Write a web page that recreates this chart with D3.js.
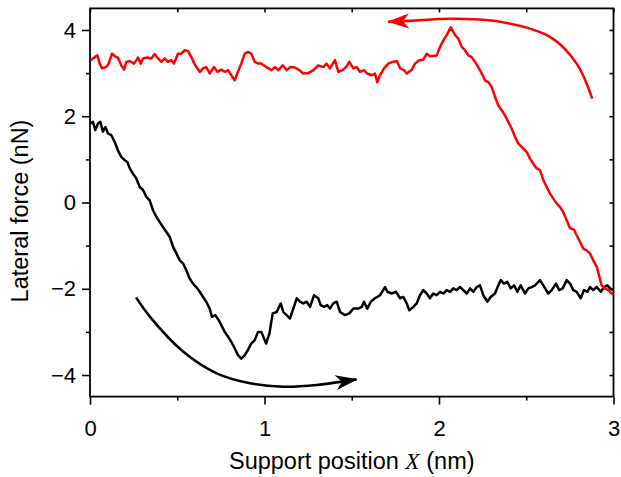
<!DOCTYPE html>
<html>
<head>
<meta charset="utf-8">
<script src="https://cdn.jsdelivr.net/npm/d3@7"></script>
<style>
  html, body { margin: 0; padding: 0; background: #fff; }
  svg text { font-family: "Liberation Sans", Arial, Helvetica, sans-serif; fill: #000; }
</style>
</head>
<body>
<div id="chart"></div>
<script>
// red trace (support moving back), x in nm, force in nN
const redX = [0.004,0.027,0.042,0.056,0.069,0.093,0.107,0.126,0.142,0.160,0.179,0.195,0.208,0.228,0.252,0.275,0.291,0.304,0.328,0.351,
  0.371,0.390,0.409,0.428,0.447,0.466,0.481,0.504,0.523,0.543,0.562,0.581,0.603,0.629,0.648,0.666,0.686,0.711,0.730,0.752,
  0.772,0.791,0.810,0.829,0.848,0.867,0.887,0.905,0.924,0.944,0.963,0.982,1.010,1.041,1.060,1.079,1.104,1.127,1.150,1.175,
  1.199,1.222,1.251,1.280,1.308,1.337,1.356,1.375,1.404,1.423,1.448,1.467,1.486,1.509,1.528,1.547,1.570,1.589,1.614,1.633,
  1.646,1.662,1.685,1.709,1.735,1.758,1.777,1.799,1.815,1.844,1.862,1.887,1.910,1.930,1.948,1.987,2.006,2.025,2.044,2.067,
  2.092,2.111,2.130,2.149,2.168,2.187,2.206,2.225,2.245,2.264,2.283,2.302,2.321,2.340,2.359,2.378,2.397,2.417,2.436,2.454,
  2.483,2.503,2.521,2.540,2.560,2.579,2.598,2.617,2.636,2.655,2.674,2.693,2.712,2.732,2.751,2.774,2.789,2.808,2.827,2.846,
  2.865,2.884,2.904,2.919,2.932,2.951,2.970,2.990,3.000];
const redF = [3.30,3.37,3.41,3.22,3.11,3.14,3.22,3.45,3.39,3.36,3.18,3.08,3.26,3.28,3.22,3.36,3.22,3.34,3.36,3.34,
  3.44,3.34,3.26,3.34,3.26,3.30,3.22,3.45,3.45,3.53,3.51,3.37,3.18,3.03,3.11,3.14,2.99,3.14,3.03,3.08,
  3.03,3.07,2.95,2.83,3.03,3.22,3.45,3.49,3.45,3.26,3.22,3.22,3.14,3.07,3.14,3.07,3.18,3.07,3.14,3.13,
  3.07,2.99,3.00,3.07,3.18,3.14,3.22,3.11,3.30,3.03,3.07,3.14,3.26,3.11,3.14,3.03,3.07,2.99,2.95,2.99,
  2.79,2.95,3.11,3.22,3.26,3.28,3.11,3.07,2.99,3.08,3.22,3.30,3.31,3.45,3.39,3.41,3.61,3.76,3.88,4.06,
  3.88,3.80,3.61,3.53,3.41,3.37,3.26,3.14,2.99,2.83,2.79,2.68,2.45,2.25,2.14,2.02,1.87,1.71,1.52,1.37,
  1.25,1.17,1.02,0.90,0.79,0.75,0.52,0.36,0.21,0.09,-0.02,-0.10,-0.22,-0.41,-0.60,-0.63,-0.76,-0.91,-1.07,-1.11,
  -1.18,-1.34,-1.49,-1.72,-1.92,-1.99,-2.03,-2.11,-2.14];

// black trace (support moving forward)
const blackX = [0.000,0.017,0.030,0.046,0.059,0.074,0.088,0.103,0.122,0.142,0.160,0.179,0.199,0.214,0.228,0.246,0.265,0.285,0.304,0.323,
  0.342,0.361,0.380,0.399,0.418,0.437,0.457,0.476,0.495,0.514,0.533,0.552,0.571,0.590,0.609,0.629,0.648,0.666,0.686,0.699,
  0.718,0.738,0.752,0.772,0.791,0.810,0.829,0.848,0.867,0.887,0.905,0.924,0.944,0.963,0.982,1.001,1.009,1.028,1.047,1.070,
  1.093,1.108,1.127,1.146,1.165,1.185,1.203,1.222,1.242,1.261,1.284,1.308,1.322,1.341,1.360,1.375,1.394,1.414,1.433,1.461,
  1.486,1.509,1.538,1.557,1.570,1.589,1.609,1.633,1.662,1.691,1.704,1.729,1.754,1.777,1.795,1.815,1.830,1.853,1.872,1.891,
  1.910,1.930,1.948,1.967,1.987,2.006,2.025,2.044,2.063,2.082,2.101,2.120,2.139,2.159,2.178,2.197,2.216,2.235,2.254,2.277,
  2.296,2.321,2.340,2.354,2.372,2.391,2.411,2.430,2.449,2.468,2.493,2.512,2.531,2.550,2.579,2.598,2.626,2.646,2.670,2.689,
  2.709,2.732,2.751,2.770,2.789,2.812,2.831,2.850,2.865,2.884,2.904,2.927,2.946,2.965,2.980,2.999];
const blackF = [1.83,1.87,1.68,1.83,1.87,1.64,1.75,1.60,1.56,1.40,1.21,1.06,0.98,0.94,0.79,0.67,0.56,0.36,0.29,0.13,
  0.05,-0.18,-0.33,-0.45,-0.57,-0.68,-0.80,-1.03,-1.18,-1.34,-1.41,-1.57,-1.76,-1.88,-1.96,-2.07,-2.19,-2.30,-2.46,-2.65,
  -2.61,-2.73,-2.84,-3.00,-3.11,-3.23,-3.38,-3.54,-3.62,-3.54,-3.42,-3.27,-3.19,-3.00,-3.00,-3.19,-3.27,-3.04,-2.57,-2.54,
  -2.34,-2.54,-2.61,-2.69,-2.46,-2.22,-2.30,-2.34,-2.30,-2.42,-2.15,-2.22,-2.38,-2.42,-2.38,-2.46,-2.34,-2.30,-2.54,-2.61,
  -2.57,-2.46,-2.46,-2.42,-2.30,-2.46,-2.30,-2.22,-2.15,-1.96,-2.07,-2.11,-2.07,-2.22,-2.19,-2.34,-2.50,-2.42,-2.34,-2.15,
  -2.03,-2.11,-2.22,-2.11,-2.15,-2.07,-2.11,-2.03,-2.07,-1.99,-2.03,-1.96,-2.03,-2.11,-1.99,-2.07,-1.96,-1.92,-2.15,-2.30,
  -2.19,-2.11,-1.92,-1.80,-1.88,-1.84,-1.99,-1.92,-2.07,-1.92,-2.11,-1.99,-1.96,-1.92,-1.80,-1.92,-2.11,-2.03,-1.88,-2.03,
  -1.99,-1.80,-1.88,-2.03,-2.07,-2.22,-2.03,-2.07,-1.96,-2.03,-1.96,-2.07,-1.96,-1.92,-1.99,-2.03];

// direction arrows (data units)
const redArrow   = [[2.878, 2.41], [2.789, 3.22], [2.636, 3.84], [2.35, 4.19], [2.063, 4.26], [1.834, 4.21], [1.708, 4.19]];
const blackArrow = [[0.264, -2.20], [0.344, -2.65], [0.535, -3.46], [0.726, -3.96], [0.917, -4.19], [1.108, -4.27], [1.299, -4.23], [1.528, -4.10]];

const xMajor = [0, 1, 2, 3];
const xMinor = [0.5, 1.5, 2.5];
const yMajor = [-4, -2, 0, 2, 4];
const yMinor = [-3, -1, 1, 3];

const width = 621, height = 477;
const margin = { top: 8.4, right: 7.5, bottom: 80.4, left: 90 };
const innerW = width - margin.left - margin.right;
const innerH = height - margin.top - margin.bottom;

const svg = d3.select("#chart").append("svg")
  .attr("width", width)
  .attr("height", height);

const g = svg.append("g")
  .attr("transform", `translate(${margin.left},${margin.top})`);

const x = d3.scaleLinear().domain([0, 3]).range([0, innerW]);
const y = d3.scaleLinear().domain([-4.5, 4.5]).range([innerH, 0]);

const defs = svg.append("defs");
defs.append("clipPath").attr("id", "plot-clip")
  .append("rect").attr("width", innerW).attr("height", innerH);

// arrowheads
[["head-red", "#ff0000"], ["head-black", "#000"]].forEach(([id, c]) => {
  defs.append("marker")
    .attr("id", id)
    .attr("markerUnits", "userSpaceOnUse")
    .attr("viewBox", "-24 -10 26 20")
    .attr("markerWidth", 26)
    .attr("markerHeight", 20)
    .attr("refX", 0)
    .attr("refY", 0)
    .attr("orient", "auto")
    .append("path")
    .attr("d", "M1,0 L-21,-7.5 L-15,0 L-21,7.5 Z")
    .attr("fill", c);
});

function styleAxis(sel) {
  sel.select(".domain").remove();
  sel.selectAll(".tick line").attr("stroke", "#000").attr("stroke-width", 1.6);
  sel.selectAll(".tick text").style("font-size", "22px");
}

// bottom
g.append("g").attr("transform", `translate(0,${innerH})`)
  .call(d3.axisBottom(x).tickValues(xMajor).tickSize(8).tickPadding(16).tickFormat(d3.format("d")))
  .call(styleAxis);
g.append("g").attr("transform", `translate(0,${innerH})`)
  .call(d3.axisBottom(x).tickValues(xMinor).tickSize(4).tickFormat(""))
  .call(styleAxis);
// left
g.append("g")
  .call(d3.axisLeft(y).tickValues(yMajor).tickSize(8).tickPadding(6).tickFormat(d3.format("d")))
  .call(styleAxis);
g.append("g")
  .call(d3.axisLeft(y).tickValues(yMinor).tickSize(4).tickFormat(""))
  .call(styleAxis);
// top and right, inward
g.append("g")
  .call(d3.axisTop(x).tickValues(xMajor.concat(xMinor)).tickSize(-4).tickFormat(""))
  .call(styleAxis);
g.append("g").attr("transform", `translate(${innerW},0)`)
  .call(d3.axisRight(y).tickValues(yMajor.concat(yMinor)).tickSize(-4).tickFormat(""))
  .call(styleAxis);

// frame
g.append("rect")
  .attr("width", innerW)
  .attr("height", innerH)
  .attr("fill", "none")
  .attr("stroke", "#000")
  .attr("stroke-width", 1.8);

const line = d3.line()
  .x(d => x(d[0]))
  .y(d => y(d[1]));

const plot = g.append("g").attr("clip-path", "url(#plot-clip)");

plot.append("path")
  .datum(blackX.map((v, i) => [v, blackF[i]]))
  .attr("d", line)
  .attr("fill", "none")
  .attr("stroke", "#000")
  .attr("stroke-width", 2.5)
  .attr("stroke-linejoin", "round");

plot.append("path")
  .datum(redX.map((v, i) => [v, redF[i]]))
  .attr("d", line)
  .attr("fill", "none")
  .attr("stroke", "#ff0000")
  .attr("stroke-width", 2.5)
  .attr("stroke-linejoin", "round");

const arrowLine = d3.line()
  .x(d => x(d[0]))
  .y(d => y(d[1]))
  .curve(d3.curveCatmullRom);

g.append("path")
  .datum(redArrow)
  .attr("d", arrowLine)
  .attr("fill", "none")
  .attr("stroke", "#ff0000")
  .attr("stroke-width", 2.6)
  .attr("marker-end", "url(#head-red)");

g.append("path")
  .datum(blackArrow)
  .attr("d", arrowLine)
  .attr("fill", "none")
  .attr("stroke", "#000")
  .attr("stroke-width", 2.6)
  .attr("marker-end", "url(#head-black)");

// axis titles
const xTitle = svg.append("text")
  .attr("x", margin.left + innerW / 2)
  .attr("y", 469)
  .attr("text-anchor", "middle")
  .style("font-size", "23.5px");
xTitle.append("tspan").text("Support position ");
xTitle.append("tspan")
  .style("font-family", "'Liberation Serif', 'Times New Roman', serif")
  .style("font-style", "italic")
  .text("X");
xTitle.append("tspan").text(" (nm)");

svg.append("text")
  .attr("transform", "translate(28,211) rotate(-90)")
  .attr("text-anchor", "middle")
  .style("font-size", "23.5px")
  .text("Lateral force (nN)");
</script>
</body>
</html>
